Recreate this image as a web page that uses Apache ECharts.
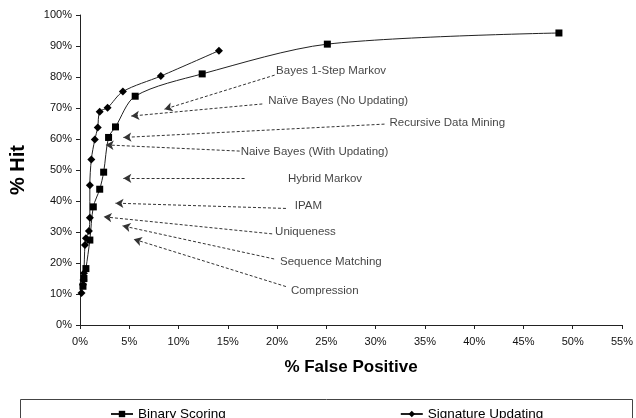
<!DOCTYPE html>
<html><head><meta charset="utf-8">
<script src="https://cdn.jsdelivr.net/npm/echarts@6/dist/echarts.min.js"></script>
<style>html,body{margin:0;padding:0;background:#fff}#c{width:636px;height:418px}</style>
</head><body><div id="c"></div>
<script>
const seriesNames = ['Binary Scoring', 'Signature Updating'];
const binaryX = [0.3, 0.4, 0.6, 1.0, 1.35, 2.0, 2.4, 2.9, 3.6, 5.6, 12.4, 25.1, 48.6];
const binaryY = [12.5, 15.0, 18.2, 27.4, 38.1, 43.8, 49.3, 60.5, 63.9, 73.8, 81.0, 90.6, 94.2];
const sigX = [0.15, 0.3, 0.35, 0.4, 0.5, 0.6, 0.9, 1.0, 1.0, 1.15, 1.5, 1.8, 2.0, 2.8, 4.35, 8.2, 14.1];
const sigY = [10.3, 13.0, 14.5, 16.7, 25.8, 28.0, 30.3, 34.6, 45.1, 53.4, 59.8, 63.7, 68.8, 70.1, 75.3, 80.3, 88.5];
const xTicks = [0, 5, 10, 15, 20, 25, 30, 35, 40, 45, 50, 55];
const yTicks = [0, 10, 20, 30, 40, 50, 60, 70, 80, 90, 100];
const annoLabels = ['Bayes 1-Step Markov', 'Naïve Bayes (No Updating)', 'Recursive Data Mining', 'Naive Bayes (With Updating)', 'Hybrid Markov', 'IPAM', 'Uniqueness', 'Sequence Matching', 'Compression'];
const annoTextX = [19.9, 19.1, 31.4, 16.3, 21.1, 21.8, 19.8, 20.3, 21.4];
const annoTextY = [81.9, 72.4, 65.3, 55.9, 47.3, 38.4, 30.1, 20.4, 11.1];
const arrowFromX = [19.75, 18.5, 30.9, 16.2, 16.7, 20.9, 19.5, 19.7, 20.9];
const arrowFromY = [80.6, 71.3, 64.8, 56.1, 47.3, 37.6, 29.4, 21.3, 12.4];
const arrowToX = [8.56, 5.2, 4.4, 2.6, 4.4, 3.6, 2.4, 4.3, 5.45];
const arrowToY = [69.6, 67.4, 60.5, 58.1, 47.3, 39.3, 34.9, 32.0, 27.7];

const FONT = '"Liberation Sans", Arial, sans-serif';
const chart = echarts.init(document.getElementById('c'), null, {renderer: 'canvas'});
const zip = (xs, ys) => xs.map((x, i) => [x, ys[i]]);

chart.setOption({
  backgroundColor: '#fff',
  animation: false,
  textStyle: {fontFamily: FONT},
  grid: {left: 79, right: 9, top: 15, bottom: 93},
  xAxis: {
    type: 'value', min: 0, max: 55, interval: 5,
    name: '% False Positive', nameLocation: 'middle', nameGap: 34,
    nameTextStyle: {fontFamily: FONT, fontSize: 17, fontWeight: 'bold', color: '#000'},
    axisLine: {lineStyle: {color: '#222', width: 1}},
    axisTick: {show: true, length: 4, lineStyle: {color: '#222'}},
    axisLabel: {formatter: v => v + '%', fontFamily: FONT, fontSize: 11, color: '#111', margin: 11},
    splitLine: {show: false}
  },
  yAxis: {
    type: 'value', min: 0, max: 100, interval: 10,
    name: '% Hit', nameLocation: 'middle', nameGap: 52, nameRotate: 90,
    nameTextStyle: {fontFamily: FONT, fontSize: 20, fontWeight: 'bold', color: '#000'},
    axisLine: {show: true, lineStyle: {color: '#222', width: 1}},
    axisTick: {show: true, length: 4, lineStyle: {color: '#222'}},
    axisLabel: {formatter: v => v + '%', fontFamily: FONT, fontSize: 11, color: '#111', margin: 8},
    splitLine: {show: false}
  },
  legend: {
    data: seriesNames, left: 105, top: 402, itemGap: 174, itemWidth: 22, itemHeight: 8,
    textStyle: {fontFamily: FONT, fontSize: 13.5, color: '#000'}
  },
  graphic: [{type: 'rect', shape: {x: 20.5, y: 399.5, width: 612, height: 40}, style: {fill: 'none', stroke: '#444', lineWidth: 1}, silent: true}],
  series: [
    {
      name: seriesNames[0], type: 'line', data: zip(binaryX, binaryY), smooth: 0.3,
      symbol: 'rect', symbolSize: 7, showAllSymbol: true,
      lineStyle: {color: '#222', width: 1}, itemStyle: {color: '#000'}
    },
    {
      name: seriesNames[1], type: 'line', data: zip(sigX, sigY), smooth: 0.3,
      symbol: 'diamond', symbolSize: 8, showAllSymbol: true,
      lineStyle: {color: '#222', width: 1}, itemStyle: {color: '#000'}
    },
    {
      name: 'annotations', type: 'scatter', symbolSize: 0, silent: true,
      data: annoLabels.map((t, i) => ({value: [annoTextX[i], annoTextY[i]], name: t})),
      label: {show: true, position: 'right', distance: 0, formatter: p => p.name, fontFamily: FONT, fontSize: 11.5, color: '#111'},
      markLine: {
        silent: true, symbol: ['none', 'arrow'], symbolSize: [7, 8],
        lineStyle: {type: [3, 2], color: '#333', width: 1},
        label: {show: false},
        data: annoLabels.map((t, i) => [{coord: [arrowFromX[i], arrowFromY[i]]}, {coord: [arrowToX[i], arrowToY[i]]}])
      }
    }
  ]
});
</script></body></html>
